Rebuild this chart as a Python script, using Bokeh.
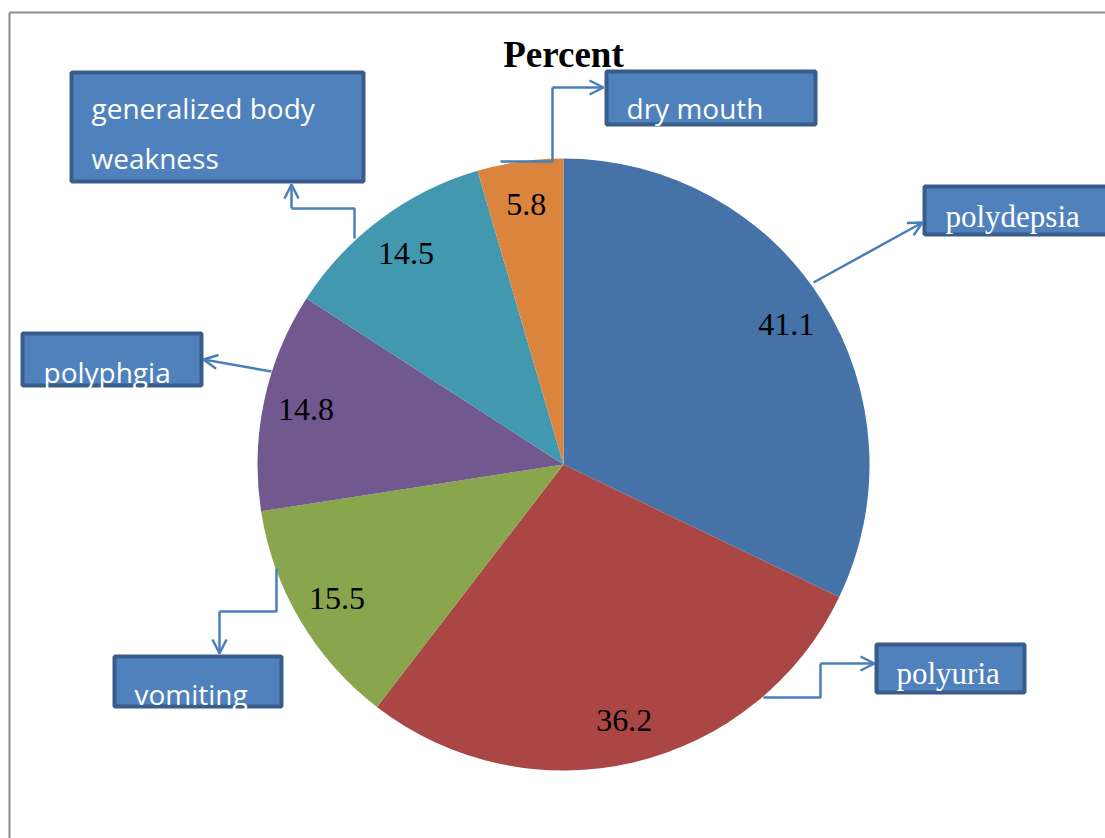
import math

from bokeh.core.properties import value
from bokeh.embed import file_html
from bokeh.models import Arrow, OpenHead, Range1d
from bokeh.plotting import figure
from bokeh.resources import INLINE

# ---- data ----
symptoms = ["polydepsia", "polyuria", "vomiting", "polyphgia",
            "generalized body weakness", "dry mouth"]
percent = [41.1, 36.2, 15.5, 14.8, 14.5, 5.8]
slice_colors = ["#4572a7", "#aa4643", "#89a54e", "#71588f", "#4198af", "#db843d"]
title_text = "Percent"

W, H = 1105, 838


def py(y):
    """Convert a top-down canvas row into the upward data y."""
    return H - y


def mid_of(baseline, size, k):
    """Vertical middle of a text line whose baseline sits at a canvas row."""
    return baseline - k * size


p = figure(width=W, height=H, x_range=Range1d(0, W), y_range=Range1d(0, H),
           x_axis_type=None, y_axis_type=None, toolbar_location=None,
           output_backend="svg", min_border=0)
p.grid.visible = False
p.outline_line_color = None
p.background_fill_color = "white"
p.border_fill_color = "white"

# chart-area frame (only the left and top edges fall inside the page)
p.multi_line(xs=[[9, 9], [9, W]], ys=[[py(H), py(12)], [py(12), py(12)]],
             line_color="#8c8c8c", line_width=2)

# ---- pie ----
cx, cy, R = 563, py(464), 306
total = sum(percent)
starts, ends, mids = [], [], []
acc = 0.0
for v in percent:
    a0 = 90 - acc / total * 360
    acc += v
    a1 = 90 - acc / total * 360
    starts.append(math.radians(a0))
    ends.append(math.radians(a1))
    mids.append(math.radians((a0 + a1) / 2))

p.wedge(x=[cx] * len(percent), y=[cy] * len(percent), radius=R,
        start_angle=starts, end_angle=ends, direction="clock",
        fill_color=slice_colors, line_color=None)

# value labels inside the slices
lab_r = 0.86 * R
lx = [cx + lab_r * math.cos(m) for m in mids]
ly = [cy + lab_r * math.sin(m) for m in mids]
p.text(x=lx, y=ly, text=[f"{v:.1f}" for v in percent],
       text_font=value("Liberation Serif"), text_font_size="32px",
       text_color="black", text_align="center", text_baseline="middle")

# title
p.text(x=[563], y=[py(mid_of(67, 37, 0.34))], text=[title_text],
       text_font=value("Liberation Serif"), text_font_style="bold",
       text_font_size="37px", text_color="black", text_align="center",
       text_baseline="middle")

# ---- callout boxes: (left, right, top, bottom) in canvas rows ----
boxes = [
    (922, 1112, 184, 236),   # polydepsia
    (874, 1026, 642, 694),   # polyuria
    (112, 283, 654, 708),    # vomiting
    (20, 203, 331, 387),     # polyphgia
    (69, 365, 70, 183),      # generalized body weakness
    (604, 817, 69, 126),     # dry mouth
]
p.quad(left=[b[0] + 2 for b in boxes], right=[b[1] - 2 for b in boxes],
       top=[py(b[2] + 2) for b in boxes], bottom=[py(b[3] - 2) for b in boxes],
       fill_color="#4f81bd", line_color="#385d8a", line_width=4)

# callout texts: (lines, left, first baseline, font, size, middle factor)
serif, sans = "Liberation Serif", "Open Sans"
callouts = [
    ([symptoms[0]], 945, 227, serif, 31, 0.34),
    ([symptoms[1]], 896, 684, serif, 31, 0.34),
    ([symptoms[2]], 134, 704, sans, 28, 0.36),
    ([symptoms[3]], 43, 382, sans, 28, 0.36),
    (["generalized body", "weakness"], 91, 118, sans, 28, 0.36),
    ([symptoms[5]], 626, 118, sans, 28, 0.36),
]
for lines, x0, y0, font, size, k in callouts:
    for i, line in enumerate(lines):
        p.text(x=[x0], y=[py(mid_of(y0 + 50 * i, size, k))], text=[line],
               text_font=value(font), text_font_size=f"{size}px",
               text_color="white", text_align="left",
               text_baseline="middle")

# ---- connectors from slices to callouts (canvas rows) ----
conn_color = "#4a7ebb"
connectors = [
    [(813, 282), (922, 222)],
    [(763, 697), (820, 697), (820, 663), (874, 663)],
    [(276, 568), (276, 611), (219, 611), (219, 653)],
    [(271, 371), (203, 359)],
    [(354, 238), (354, 208), (291, 208), (291, 184)],
    [(500, 161), (552, 161), (552, 87), (603, 87)],
]
for pts in connectors:
    if len(pts) > 2:
        p.line(x=[q[0] for q in pts[:-1]], y=[py(q[1]) for q in pts[:-1]],
               line_color=conn_color, line_width=2.5)
    (xa, ya), (xb, yb) = pts[-2], pts[-1]
    p.add_layout(Arrow(end=OpenHead(size=14, line_color=conn_color, line_width=2.5),
                       x_start=xa, y_start=py(ya), x_end=xb, y_end=py(yb),
                       line_color=conn_color, line_width=2.5))

open("out.html", "w").write(file_html(p, INLINE))
